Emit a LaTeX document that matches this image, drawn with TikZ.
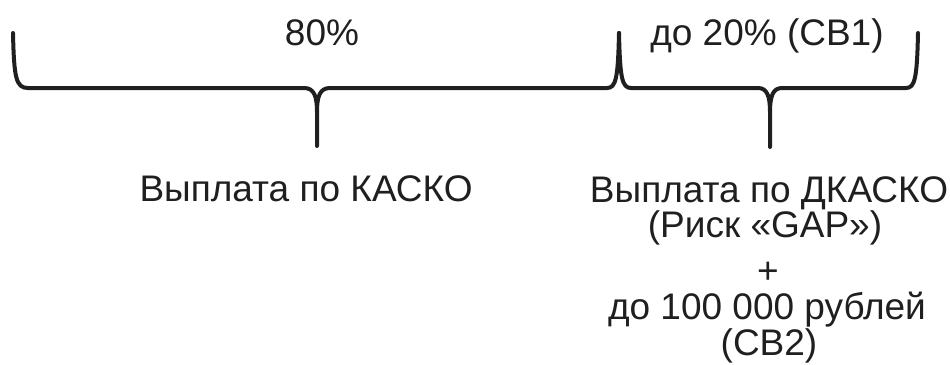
\documentclass[tikz,border=0pt]{standalone}
\usepackage{fontspec}
\setmainfont{Liberation Sans}
\usetikzlibrary{positioning}

\tikzset{
  brace line/.style={line width=4pt, line cap=round, line join=round, color=black!88},
  label text/.style={font=\fontsize{37}{37}\selectfont, text=black!88, inner sep=0pt, anchor=base},
}

\begin{document}
\begin{tikzpicture}[x=1pt, y=-1pt]
    \useasboundingbox (0,0) rectangle (950,364);
    \coordinate (lEnd) at (13,33);
    \coordinate (mid) at (619,33);
    \coordinate (rEnd) at (918,33);
    \coordinate (lTip) at (317,146);
    \coordinate (rTip) at (770,147);
    % left brace (80%)
    \draw[brace line] (lEnd) .. controls (14,78) and (16,88) .. (28,88) -- (304,88)
        .. controls (314,88) and (317,96) .. (317,112) -- (lTip) -- (317,112)
        .. controls (317,96) and (320,88) .. (330,88) -- (607,88)
        .. controls (616,88) and (618,78) .. (mid);
    % right brace (20%)
    \draw[brace line] (mid) .. controls (620,78) and (622,88) .. (631,88) -- (758,88)
        .. controls (767,88) and (770,96) .. (770,112) -- (rTip) -- (770,112)
        .. controls (770,96) and (773,88) .. (782,88) -- (906,88)
        .. controls (915,88) and (917,78) .. (rEnd);
    \node[label text] (pctA) at (322,45) {80\%};
    \node[label text] (pctB) at (767,45) {до 20\% (СВ1)};
    \node[label text] (kasko) at (306,201) {Выплата по КАСКО};
    \node[label text] (dkasko) at (769,202) {Выплата по ДКАСКО};
    \node[label text] (gap) at (765,237) {(Риск «GAP»)};
    \node[label text] (plus) at (768,283) {+};
    \node[label text] (rub) at (767,319) {до 100 000 рублей};
    \node[label text] (svB) at (769,355.5) {(СВ2)};
\end{tikzpicture}
\end{document}
